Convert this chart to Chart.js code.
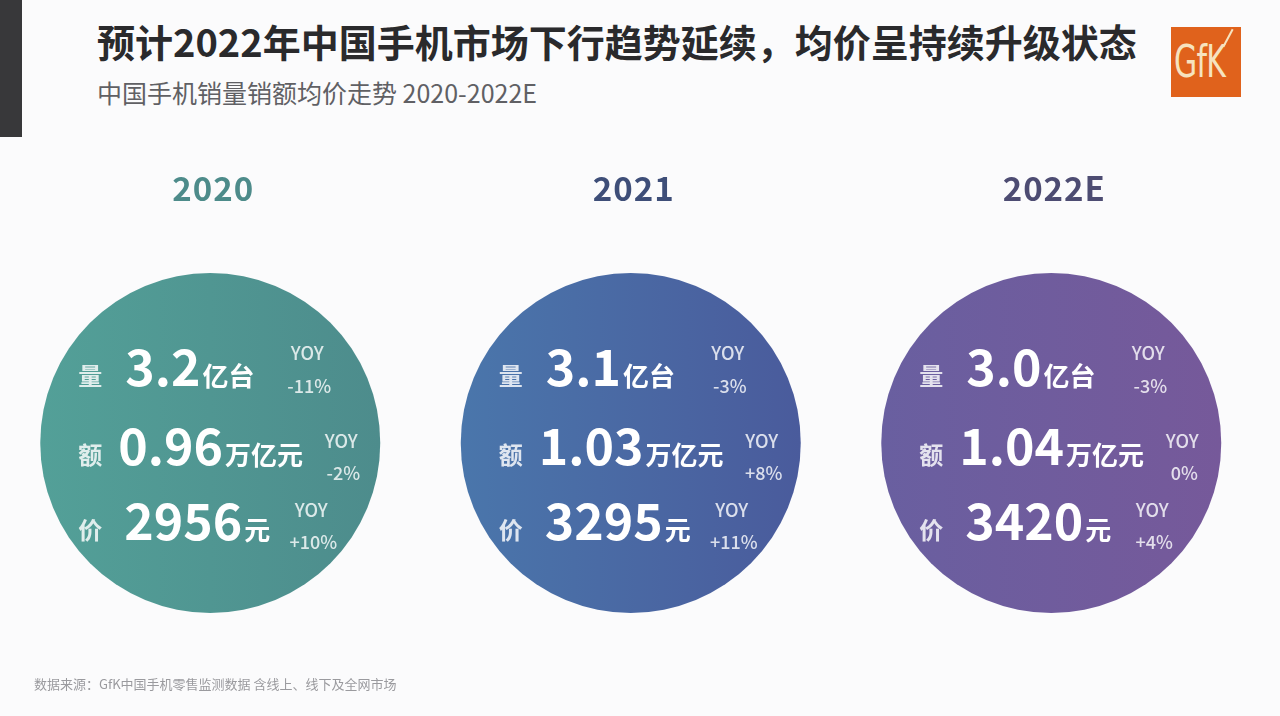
<!DOCTYPE html>
<html><head><meta charset="utf-8">
<script src="https://cdn.jsdelivr.net/npm/chart.js@4.4.1/dist/chart.umd.min.js"></script>
<style>
html,body{margin:0;padding:0;width:1280px;height:716px;overflow:hidden;background:#fbfbfc;font-family:"Noto Sans CJK SC","Noto Sans",sans-serif;}
#wrap{position:relative;width:1280px;height:716px;}
#c{position:absolute;left:0;top:0;}
.bar{position:absolute;left:0;top:0;width:22px;height:137px;background:#38383a;}
.title{position:absolute;left:97px;top:15px;font-size:38px;font-weight:700;color:#2a2a2c;white-space:nowrap;line-height:52px;}
.sub{position:absolute;left:97px;top:75px;font-size:25px;color:#606064;white-space:nowrap;line-height:34px;}
.logo{position:absolute;left:1171px;top:27px;width:70px;height:70px;background:#e0621c;overflow:hidden;}
.logo span{position:absolute;left:3px;top:10px;font-family:"DejaVu Sans","Noto Sans",sans-serif;font-size:44px;line-height:50px;color:#f6e3bf;transform:scaleX(0.68);transform-origin:left top;letter-spacing:-1px;}
.logo i{position:absolute;left:56px;top:1px;width:2px;height:20px;background:#f6e3bf;transform:rotate(28deg);}
.foot{position:absolute;left:34px;top:675px;font-size:13px;color:#9a9a9e;white-space:nowrap;line-height:18px;}
</style></head>
<body><div id="wrap">
<div class="bar"></div>
<div class="title">预计2022年中国手机市场下行趋势延续，均价呈持续升级状态</div>
<div class="sub">中国手机销量销额均价走势 2020-2022E</div>
<div class="logo"><span>GfK</span><i></i></div>
<canvas id="c" width="1280" height="716"></canvas>
<div class="foot">数据来源：GfK中国手机零售监测数据 含线上、线下及全网市场</div>
</div>
<script>
// ---- data ----
const years = ['2020', '2021', '2022E'];
const volume = [3.2, 3.1, 3.0];          // 亿台
const volumeYoY = [-11, -3, -3];         // %
const revenue = [0.96, 1.03, 1.04];      // 万亿元
const revenueYoY = [-2, 8, 0];           // %
const avgPrice = [2956, 3295, 3420];     // 元
const avgPriceYoY = [10, 11, 4];         // %

// ---- styles ----
const circleLeft = ['#53a098', '#4a76ab', '#695fa0'];
const circleRight = ['#4d8c8c', '#4a5b9c', '#76599a'];
const yearColors = ['#4d8b8a', '#3e4e78', '#4d4c72'];

const fmtYoY = v => (v > 0 ? '+' : v < 0 ? '-' : '') + Math.abs(v) + '%';

const FONT = '"Noto Sans CJK SC","Noto Sans",sans-serif';

const gradientPlugin = {
  id: 'circleGradient',
  beforeDatasetsDraw(chart) {
    const ctx = chart.ctx;
    chart.getDatasetMeta(0).data.forEach((el, i) => {
      const r = el.options.radius;
      if (!isFinite(el.x) || !isFinite(r)) return;
      const g = ctx.createLinearGradient(el.x - r, 0, el.x + r, 0);
      g.addColorStop(0, circleLeft[i]);
      g.addColorStop(1, circleRight[i]);
      el.options.backgroundColor = g;
    });
  }
};

const textPlugin = {
  id: 'circleText',
  afterDatasetsDraw(chart) {
    const ctx = chart.ctx;
    const meta = chart.getDatasetMeta(0);
    meta.data.forEach((el, i) => {
      const cx = el.x, cy = el.y;
      ctx.save();
      ctx.fillStyle = yearColors[i];
      ctx.font = '700 33px ' + FONT;
      ctx.textAlign = 'center';
      ctx.textBaseline = 'alphabetic';
      if ('letterSpacing' in ctx) ctx.letterSpacing = '1px';
      ctx.fillText(years[i], cx + 3, cy - 242);
      if ('letterSpacing' in ctx) ctx.letterSpacing = '0px';

      const rows = [
        { lab: '量', num: volume[i].toFixed(1), unit: '亿台', yoy: fmtYoY(volumeYoY[i]), base: -57, numX: -85, yoyX: 97, yoyB: -83, pctB: -50 },
        { lab: '额', num: revenue[i].toFixed(2), unit: '万亿元', yoy: fmtYoY(revenueYoY[i]), base: 22, numX: -92, yoyX: 131, yoyB: 5, pctB: 37 },
        { lab: '价', num: String(avgPrice[i]), unit: '元', yoy: fmtYoY(avgPriceYoY[i]), base: 97, numX: -86, yoyX: 101, yoyB: 74, pctB: 106 }
      ];
      rows.forEach(r => {
        ctx.textAlign = 'center';
        ctx.fillStyle = 'rgba(255,255,255,0.82)';
        ctx.font = '700 24px ' + FONT;
        ctx.fillText(r.lab, cx - 120, cy + r.base - 1);

        ctx.textAlign = 'left';
        ctx.fillStyle = '#ffffff';
        ctx.font = '700 50px ' + FONT;
        const nx = cx + r.numX;
        ctx.fillText(r.num, nx, cy + r.base);
        const w = ctx.measureText(r.num).width;
        ctx.font = '700 26px ' + FONT;
        ctx.fillText(r.unit, nx + w + 2, cy + r.base);

        ctx.textAlign = 'center';
        ctx.fillStyle = 'rgba(255,255,255,0.8)';
        ctx.font = '500 18px ' + FONT;
        ctx.fillText('YOY', cx + r.yoyX, cy + r.yoyB);
        ctx.fillText(r.yoy, cx + r.yoyX + 2, cy + r.pctB);
      });
      ctx.restore();
    });
  }
};

new Chart(document.getElementById('c'), {
  type: 'bubble',
  data: {
    datasets: [{
      label: '中国手机销量销额均价',
      data: years.map((y, i) => ({ x: i, y: 0 })),
      radius: 170,
      hoverRadius: 0,
      borderWidth: 0,
      clip: false,
      backgroundColor: circleLeft
    }]
  },
  options: {
    responsive: false,
    animation: false,
    events: [],
    layout: { padding: 0, autoPadding: false },
    plugins: { legend: { display: false }, tooltip: { enabled: false } },
    scales: {
      x: { type: 'linear', min: -0.5, max: 2.544, display: false },
      y: { type: 'linear', min: -1, max: 1.6227, display: false }
    }
  },
  plugins: [gradientPlugin, textPlugin]
});
</script>
</body></html>
